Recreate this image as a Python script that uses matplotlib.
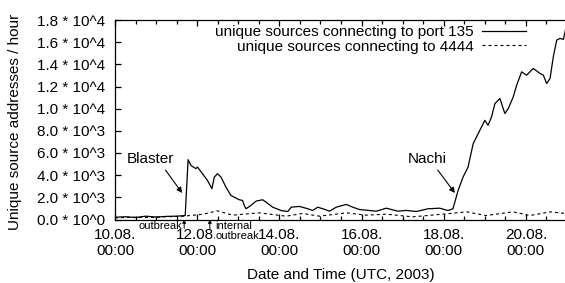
import numpy as np
import pandas as pd
import matplotlib
matplotlib.use('Agg')
import matplotlib.pyplot as plt
import matplotlib.dates as mdates
from matplotlib.ticker import FuncFormatter, MultipleLocator

# hours since 10.08.2003 00:00 UTC
hours_135 = [0, 6, 12, 18, 24, 30, 36, 41.0, 42.7, 44.3, 47.2, 48.2, 51.1, 54.0, 56.6,
             58.0, 59.9, 61.9, 64.8, 67.7, 72.6, 74.5, 75.5, 76.5, 79.4, 82.4, 86.2,
             88.2, 92.1, 97.0, 100.9, 102.9, 107.7, 112.6, 115.5, 118.4, 121.4, 125.3,
             129.2, 135.1, 138.9, 142.8, 148.7, 152.6, 158.5, 162.2, 165.3, 170.0,
             176.0, 182.9, 189.7, 194.5, 197.4, 200.4, 203.3, 206.2, 209.2, 213.1,
             216.0, 217.9, 219.9, 221.9, 224.8, 227.7, 229.7, 232.6, 234.6, 237.5,
             240.4, 244.3, 248.2, 250.2, 252.1, 254.1, 256.0, 258.0, 259.9, 261.9, 263.5]
port_135 = [200, 250, 180, 300, 220, 280, 300, 350, 5400, 4880, 4590, 4730, 4130, 3530, 2780,
            3830, 4130, 3830, 2920, 2170, 1780, 1720, 1270, 970, 1270, 1660, 1780,
            1570, 1110, 810, 720, 1110, 1180, 970, 810, 1110, 970, 750,
            1110, 1360, 1110, 900, 810, 750, 1020, 870, 750, 820,
            720, 970, 1020, 810, 970, 2620, 3830, 4730, 6840, 8050,
            8950, 8500, 9250, 10460, 10920, 9560, 10010, 11060, 12120, 13320,
            13020, 13630, 13180, 13020, 12270, 12720, 14680, 16190, 16340, 16250, 17390]

hours_4444 = [0, 10, 20, 30, 40, 51.1, 59.9, 68.6, 84.3, 99.9, 109.5, 119.4, 135.1,
              146.7, 158.5, 173.9, 182.6, 195.5, 205.3, 216.6, 232.4, 242.3, 254.1, 263.5]
port_4444 = [150, 200, 180, 250, 300, 470, 780, 390, 600, 300, 540, 300, 600,
             390, 480, 240, 360, 540, 690, 360, 690, 360, 690, 540]

start = pd.Timestamp('2003-08-10 00:00')
t135 = start + pd.to_timedelta(hours_135, unit='h')
t4444 = start + pd.to_timedelta(hours_4444, unit='h')

plt.rcParams['font.family'] = ['Liberation Sans', 'DejaVu Sans']
plt.rcParams['font.size'] = 11

fig = plt.figure(figsize=(5.65, 2.83), dpi=100)
ax = fig.add_axes([115 / 565, 1 - 219.5 / 283, 452 / 565, 199.5 / 283])

ax.plot(t135, port_135, color='black', lw=0.9, label='unique sources connecting to port 135')
ax.plot(t4444, port_4444, color='black', lw=0.8, linestyle=(0, (2.7, 2.7)),
        label='unique sources connecting to 4444')

ax.set_xlim(start, start + pd.Timedelta(days=11))
ax.set_ylim(0, 18000)

def sci(v, pos):
    if v <= 0:
        return '0.0 * 10^0'
    e = int(np.floor(np.log10(v)))
    return f'{v / 10 ** e:.1f} * 10^{e}'

ax.yaxis.set_major_locator(MultipleLocator(2000))
ax.yaxis.set_major_formatter(FuncFormatter(sci))
ax.xaxis.set_major_locator(mdates.DayLocator(bymonthday=[10, 12, 14, 16, 18, 20]))
ax.xaxis.set_minor_locator(mdates.HourLocator(byhour=[0, 12]))
ax.xaxis.set_major_formatter(mdates.DateFormatter('%d.%m.\n%H:%M'))
ax.tick_params(which='both', direction='in', top=True, right=False, labelsize=11)
ax.tick_params(which='major', length=4.5, width=0.9)
ax.tick_params(which='minor', length=3, width=0.9)
ax.tick_params(axis='x', pad=6)
ax.tick_params(axis='y', pad=7)
for s in ax.spines.values():
    s.set_linewidth(0.9)

ax.set_xlabel('Date and Time (UTC, 2003)', fontsize=11)
ax.xaxis.set_label_coords(0.5, -0.243)
ax.set_ylabel('Unique source addresses / hour', fontsize=11)
ax.yaxis.set_label_coords(-0.205, 0.49)

ax.legend(loc='upper right', bbox_to_anchor=(411 / 452, 0.975), frameon=False,
          markerfirst=False, handlelength=2.9, handletextpad=0.55,
          labelspacing=0.05, borderpad=0, borderaxespad=0, fontsize=11)

arrow = dict(arrowstyle='-|>', color='black', lw=0.8, mutation_scale=8, shrinkA=0, shrinkB=0)

def h(x):
    return mdates.date2num(start + pd.Timedelta(hours=x))

ax.text(h(20.5), 5460, 'Blaster', ha='center', va='center')
ax.annotate('', xy=(h(39.2), 2390), xytext=(h(29.5), 4460), arrowprops=arrow)
ax.text(h(182.1), 5460, 'Nachi', ha='center', va='center')
ax.annotate('', xy=(h(198.5), 2390), xytext=(h(188.5), 4460), arrowprops=arrow)

small = dict(arrowstyle='-|>', color='black', lw=0.7, mutation_scale=5, shrinkA=0, shrinkB=0)
tr = ax.get_xaxis_transform()
ax.annotate('', xy=(h(40.4), 0.0), xytext=(h(40.4), -0.045), xycoords=tr, arrowprops=small,
            annotation_clip=False)
ax.text(h(39.4), -0.01, 'outbreak', transform=tr, ha='right', va='top', fontsize=8)
ax.annotate('', xy=(h(55.4), 0.0), xytext=(h(55.4), -0.05), xycoords=tr, arrowprops=small,
            annotation_clip=False)
ax.text(h(58.5), -0.01, 'internal\noutbreak', transform=tr, ha='left', va='top',
        fontsize=8, linespacing=1.0,
        bbox=dict(facecolor='white', edgecolor='none', pad=0))

fig.savefig('out.png', dpi=100)
